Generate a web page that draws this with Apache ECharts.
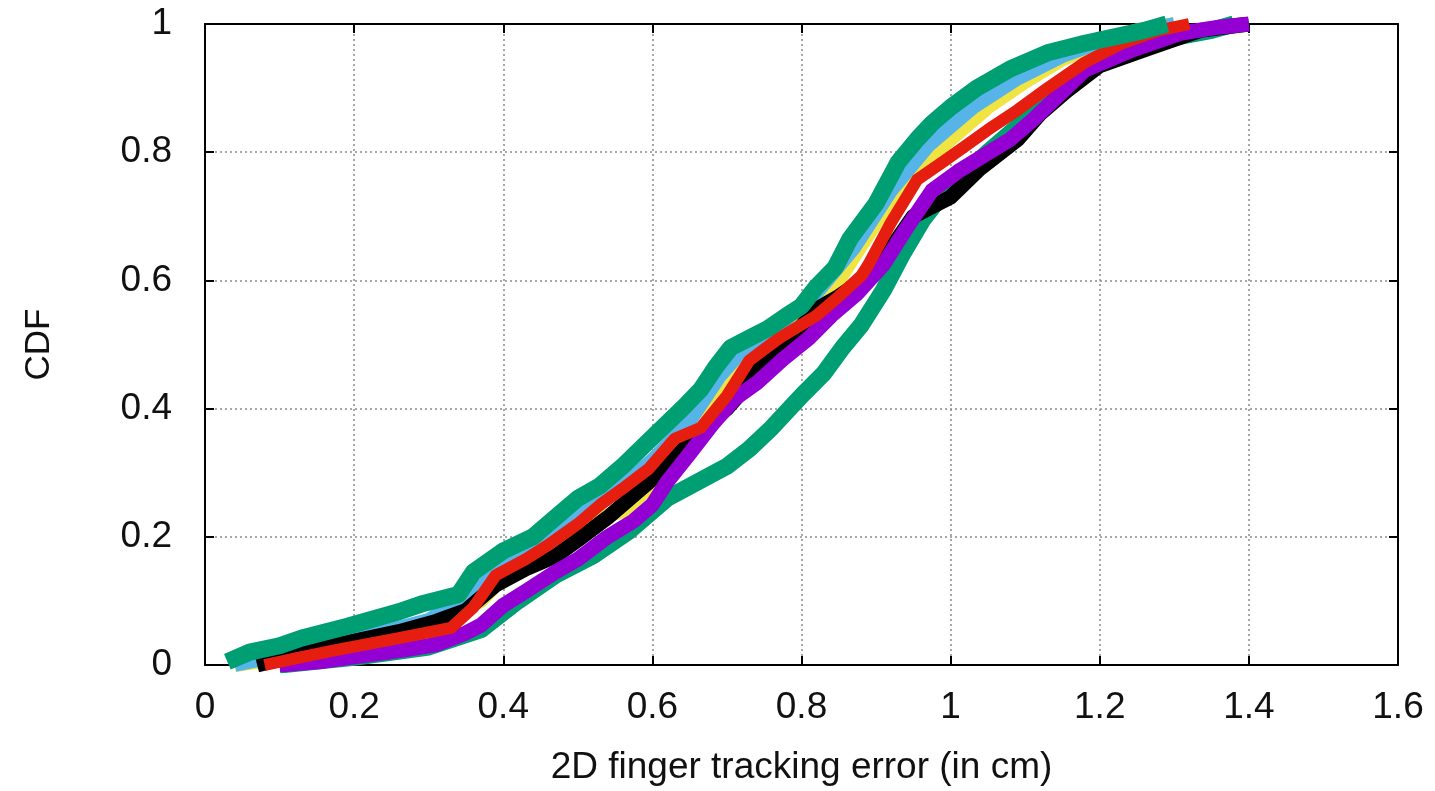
<!DOCTYPE html>
<html>
<head>
<meta charset="utf-8">
<script src="https://cdn.jsdelivr.net/npm/echarts@6/dist/echarts.min.js"></script>
<style>
  html, body { margin: 0; padding: 0; background: #fff; }
  #chart { width: 1435px; height: 791px; }
</style>
</head>
<body>
<div id="chart"></div>
<script>
// Tick values for both axes
const xTicks = [0, 0.2, 0.4, 0.6, 0.8, 1, 1.2, 1.4, 1.6];
const yTicks = [0, 0.2, 0.4, 0.6, 0.8, 1];

// CDF curves of the 2D finger tracking error, [error (cm), cumulative fraction]
const greenB = [[0.1,0.0],[0.2,0.012],[0.3,0.028],[0.37,0.055],[0.42,0.1],[0.47,0.14],[0.52,0.17],[0.57,0.21],[0.62,0.26],[0.66,0.285],[0.70,0.31],[0.73,0.337],[0.76,0.37],[0.80,0.42],[0.83,0.455],[0.855,0.495],[0.88,0.53],[0.91,0.585],[0.935,0.64],[0.963,0.695],[0.99,0.735],[1.05,0.80],[1.1,0.85],[1.15,0.9],[1.2,0.94],[1.28,0.975],[1.35,0.99],[1.38,1.0]];
const yellow = [[0.04,0.0],[0.1,0.01],[0.2,0.035],[0.3,0.06],[0.37,0.1],[0.42,0.16],[0.5,0.22],[0.56,0.24],[0.6,0.28],[0.65,0.35],[0.7,0.43],[0.75,0.5],[0.8,0.55],[0.85,0.6],[0.9,0.69],[0.95,0.77],[1.0,0.82],[1.05,0.87],[1.1,0.91],[1.15,0.945],[1.2,0.97],[1.25,0.99],[1.3,1.0]];
const skyBlue = [[0.04,0.0],[0.1,0.015],[0.2,0.04],[0.3,0.07],[0.34,0.1],[0.38,0.15],[0.44,0.19],[0.5,0.235],[0.56,0.28],[0.6,0.32],[0.65,0.38],[0.69,0.45],[0.72,0.49],[0.77,0.53],[0.82,0.58],[0.87,0.65],[0.92,0.74],[0.97,0.81],[1.03,0.87],[1.09,0.915],[1.15,0.95],[1.22,0.98],[1.3,1.0]];
const black = [[0.07,0.0],[0.12,0.015],[0.17,0.03],[0.26,0.052],[0.31,0.068],[0.35,0.085],[0.39,0.125],[0.43,0.15],[0.47,0.17],[0.50,0.195],[0.54,0.23],[0.58,0.27],[0.62,0.31],[0.66,0.36],[0.70,0.40],[0.73,0.44],[0.76,0.49],[0.79,0.515],[0.82,0.555],[0.85,0.575],[0.89,0.607],[0.92,0.65],[0.95,0.7],[1.0,0.73],[1.04,0.775],[1.09,0.82],[1.12,0.86],[1.155,0.895],[1.2,0.935],[1.27,0.964],[1.335,0.99],[1.40,1.0]];
const purple = [[0.10,0.0],[0.16,0.006],[0.22,0.016],[0.27,0.024],[0.31,0.032],[0.35,0.05],[0.37,0.062],[0.40,0.093],[0.43,0.115],[0.47,0.145],[0.50,0.165],[0.54,0.2],[0.575,0.225],[0.60,0.25],[0.62,0.286],[0.65,0.33],[0.68,0.375],[0.71,0.415],[0.74,0.44],[0.775,0.477],[0.81,0.51],[0.84,0.545],[0.875,0.58],[0.91,0.625],[0.94,0.68],[0.975,0.74],[1.01,0.77],[1.045,0.795],[1.08,0.82],[1.11,0.85],[1.155,0.90],[1.18,0.928],[1.245,0.96],[1.31,0.986],[1.36,0.995],[1.40,1.0]];
const red = [[0.08,0.0],[0.12,0.01],[0.17,0.022],[0.26,0.042],[0.33,0.058],[0.36,0.09],[0.39,0.14],[0.43,0.165],[0.46,0.187],[0.50,0.22],[0.53,0.25],[0.56,0.275],[0.595,0.306],[0.63,0.353],[0.665,0.37],[0.70,0.42],[0.73,0.475],[0.77,0.51],[0.82,0.545],[0.85,0.575],[0.88,0.607],[0.89,0.625],[0.92,0.69],[0.955,0.757],[0.99,0.785],[1.02,0.81],[1.05,0.835],[1.09,0.866],[1.13,0.90],[1.18,0.94],[1.23,0.97],[1.28,0.99],[1.32,1.0]];
const greenA = [[0.03,0.005],[0.06,0.02],[0.10,0.03],[0.13,0.042],[0.19,0.06],[0.26,0.083],[0.29,0.095],[0.34,0.11],[0.36,0.145],[0.40,0.178],[0.44,0.2],[0.47,0.23],[0.50,0.26],[0.53,0.28],[0.56,0.31],[0.60,0.355],[0.64,0.40],[0.665,0.43],[0.685,0.465],[0.705,0.495],[0.73,0.51],[0.755,0.525],[0.78,0.545],[0.80,0.56],[0.82,0.59],[0.845,0.62],[0.865,0.665],[0.90,0.72],[0.93,0.785],[0.955,0.82],[0.975,0.845],[1.00,0.87],[1.035,0.90],[1.08,0.93],[1.13,0.955],[1.18,0.97],[1.22,0.98],[1.26,0.99],[1.29,1.0]];

const FONT = '"Liberation Sans", Arial, Helvetica, sans-serif';

function curve(data, color, width) {
  return {
    type: 'line',
    data: data,
    showSymbol: false,
    symbol: 'none',
    smooth: false,
    lineStyle: { color: color, width: width, join: 'round', cap: 'butt' },
    emphasis: { disabled: true },
    animation: false
  };
}

const gridLine = { show: true, lineStyle: { color: '#8a8a8a', width: 1.5, type: [2, 3] } };
const frameLine = { show: true, onZero: false, lineStyle: { color: '#000', width: 2 } };
const inTick = { show: true, inside: true, length: 9, lineStyle: { color: '#000', width: 2 } };

const chart = echarts.init(document.getElementById('chart'), null, { renderer: 'canvas' });
chart.setOption({
  backgroundColor: '#fff',
  animation: false,
  grid: { left: 205, right: 37, top: 24, bottom: 124 },
  xAxis: [
    {
      type: 'value', min: xTicks[0], max: xTicks[xTicks.length - 1], interval: 0.2,
      axisLine: frameLine, axisTick: inTick, splitLine: gridLine,
      axisLabel: { color: '#111', fontSize: 37, fontFamily: FONT, margin: 24 },
      name: '2D finger tracking error (in cm)', nameLocation: 'middle', nameGap: 84,
      nameTextStyle: { color: '#111', fontSize: 37, fontFamily: FONT }
    },
    {
      type: 'value', position: 'top', min: xTicks[0], max: xTicks[xTicks.length - 1], interval: 0.2,
      axisLine: frameLine, axisTick: inTick, splitLine: { show: false },
      axisLabel: { show: false }
    }
  ],
  yAxis: [
    {
      type: 'value', min: yTicks[0], max: yTicks[yTicks.length - 1], interval: 0.2,
      axisLine: frameLine, axisTick: inTick, splitLine: gridLine,
      axisLabel: { color: '#111', fontSize: 37, fontFamily: FONT, margin: 33 },
      name: 'CDF', nameLocation: 'middle', nameGap: 148, nameRotate: 90,
      nameTextStyle: { color: '#111', fontSize: 35, fontFamily: FONT }
    },
    {
      type: 'value', position: 'right', min: yTicks[0], max: yTicks[yTicks.length - 1], interval: 0.2,
      axisLine: frameLine, axisTick: inTick, splitLine: { show: false },
      axisLabel: { show: false }
    }
  ],
  series: [
    curve(greenB, '#009e73', 17),
    curve(yellow, '#f0e442', 14),
    curve(skyBlue, '#56b4e9', 14),
    curve(black, '#000000', 15),
    curve(purple, '#9400d3', 15),
    curve(red, '#e51e10', 12),
    curve(greenA, '#009e73', 17)
  ]
});
</script>
</body>
</html>
